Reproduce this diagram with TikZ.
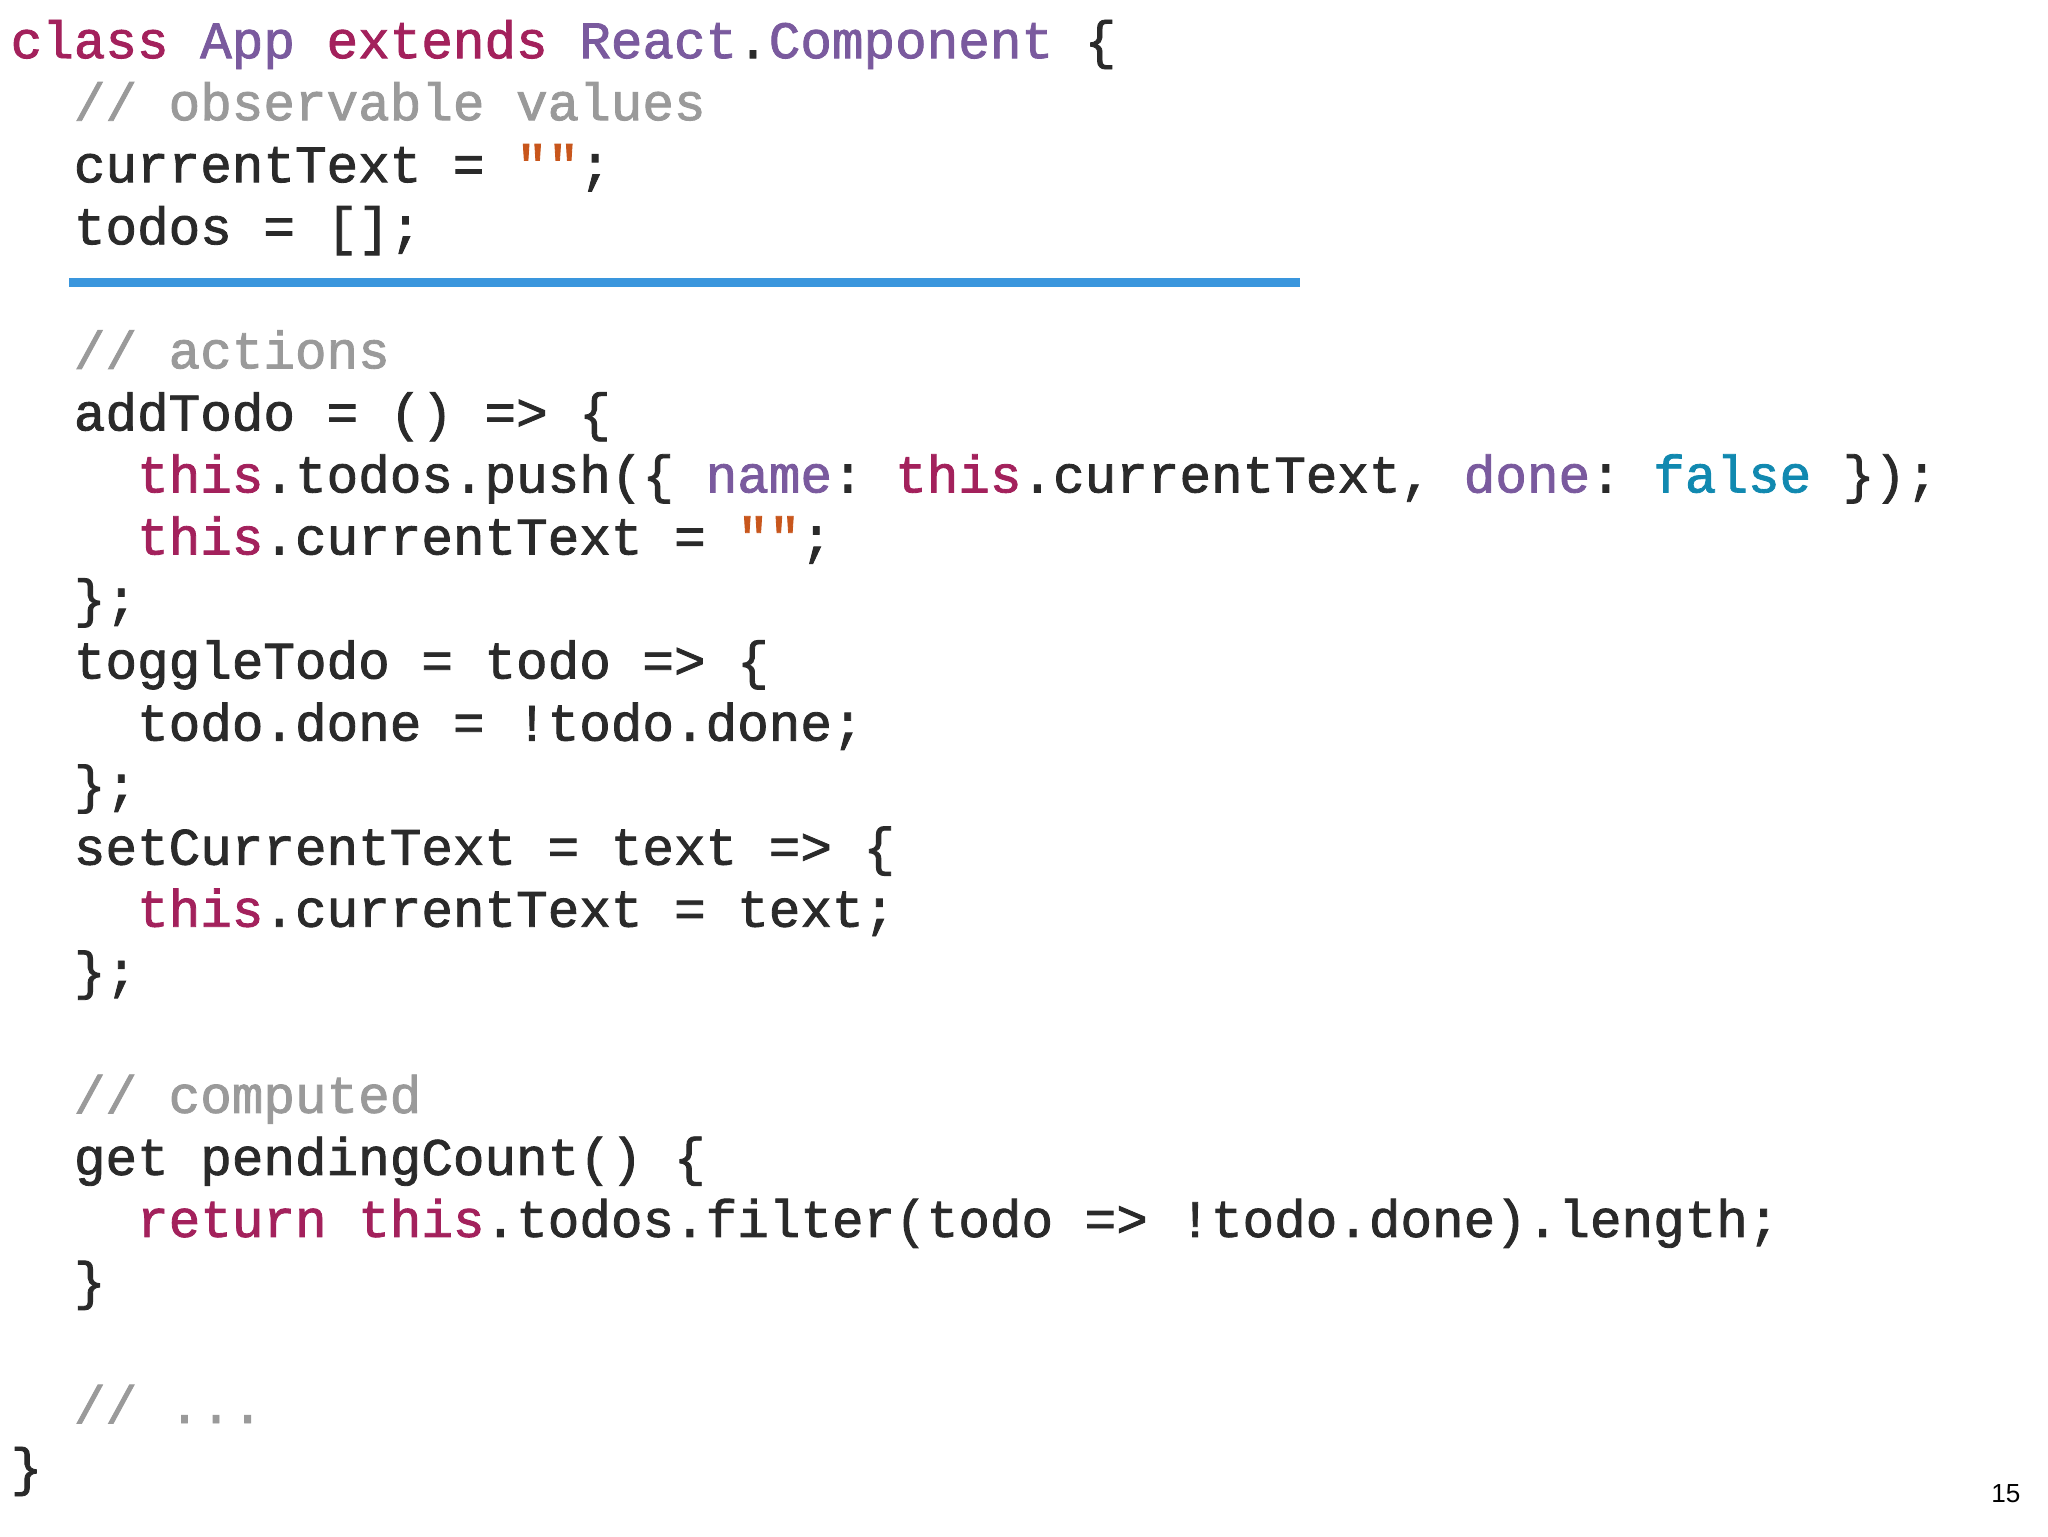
\documentclass[tikz,border=0pt]{standalone}
\usepackage{fontspec}
\setmainfont{Liberation Sans}
\setmonofont{Liberation Mono}[FakeBold=1.6]
\definecolor{kw}{HTML}{A3215C}
\definecolor{cls}{HTML}{7A5A9E}
\definecolor{cm}{HTML}{9A9A9A}
\definecolor{str}{HTML}{C8561C}
\definecolor{lit}{HTML}{1189B0}
\definecolor{code}{HTML}{2A2A2A}
\definecolor{rule}{HTML}{3A96DD}
\newcommand\kw[1]{\textcolor{kw}{#1}}
\newcommand\cl[1]{\textcolor{cls}{#1}}
\newcommand\cmt[1]{\textcolor{cm}{#1}}
\newcommand\st[1]{\textcolor{str}{#1}}
\newcommand\lt[1]{\textcolor{lit}{#1}}
\newcommand\codeln[3]{\node[codeline] (l#2) at (#1,{44.5+47.5*#2}) {#3};}
\tikzset{codeline/.style={anchor=base west,inner sep=0pt,font=\fontsize{40.3}{48}\ttfamily,text=code}}
\begin{document}
\begin{tikzpicture}[x=1pt,y=-1pt]
\useasboundingbox[fill=white] (0,0) rectangle (1568,1176);
\def\xa{8}\def\xb{56.4}\def\xc{104.8}
\codeln{\xa}{0}{\kw{class} \cl{App} \kw{extends} \cl{React}.\cl{Component} \{}
\codeln{\xb}{1}{\cmt{// observable values}}
\codeln{\xb}{2}{currentText = \st{""};}
\codeln{\xb}{3}{todos = [];}
\codeln{\xb}{5}{\cmt{// actions}}
\codeln{\xb}{6}{addTodo = () => \{}
\codeln{\xc}{7}{\kw{this}.todos.push(\{ \cl{name}: \kw{this}.currentText, \cl{done}: \lt{false} \});}
\codeln{\xc}{8}{\kw{this}.currentText = \st{""};}
\codeln{\xb}{9}{\};}
\codeln{\xb}{10}{toggleTodo = todo => \{}
\codeln{\xc}{11}{todo.done = !todo.done;}
\codeln{\xb}{12}{\};}
\codeln{\xb}{13}{setCurrentText = text => \{}
\codeln{\xc}{14}{\kw{this}.currentText = text;}
\codeln{\xb}{15}{\};}
\codeln{\xb}{17}{\cmt{// computed}}
\codeln{\xb}{18}{get pendingCount() \{}
\codeln{\xc}{19}{\kw{return} \kw{this}.todos.filter(todo => !todo.done).length;}
\codeln{\xb}{20}{\}}
\codeln{\xb}{22}{\cmt{// ...}}
\codeln{\xa}{23}{\}}
\draw[rule,line width=7pt] (53,216) -- (995,216);
\node[anchor=base east,inner sep=0pt,font=\fontsize{20}{24}\selectfont] (pg) at (1547,1150) {15};
\end{tikzpicture}
\end{document}
